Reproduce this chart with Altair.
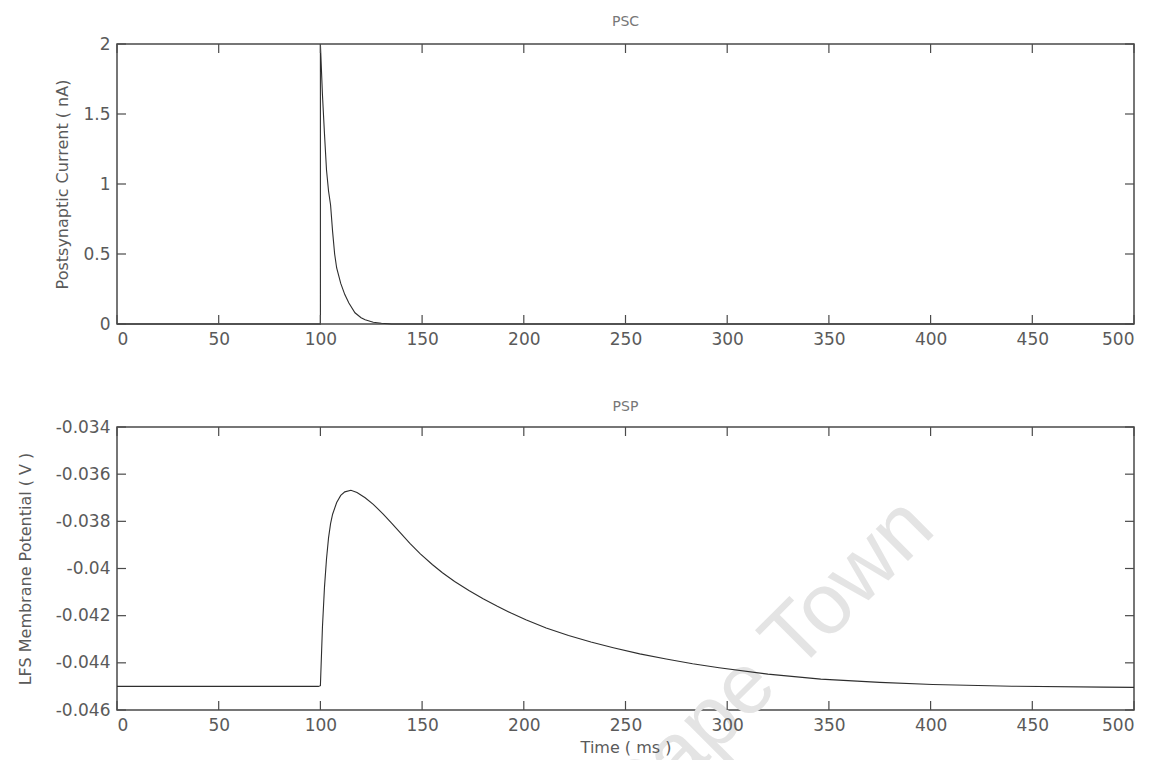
import altair as alt
import pandas as pd

# Axis tick values
time_ticks = [0, 50, 100, 150, 200, 250, 300, 350, 400, 450, 500]
psc_ticks = [0, 0.5, 1, 1.5, 2]
psp_ticks = [-0.046, -0.044, -0.042, -0.04, -0.038, -0.036, -0.034]

# Postsynaptic current (nA) after a single input at t = 100 ms
psc_time = [0, 100, 100, 101, 102, 103, 104, 105, 106, 107, 108, 110, 112, 114,
            117, 120, 122, 126, 130, 135, 500]
psc_current = [0, 0, 2.0, 1.64, 1.36, 1.1, 0.95, 0.85, 0.66, 0.5, 0.4, 0.29, 0.21,
               0.15, 0.08, 0.045, 0.03, 0.012, 0.005, 0, 0]

# Membrane potential (V) of the LFS cell
psp_time = [0, 99, 100, 101, 102, 103, 104, 105, 106, 108, 110, 112, 115, 118, 122,
            126, 131, 135, 139, 144, 149, 155, 160, 166, 173, 180, 187, 194, 201,
            211, 222, 233, 244, 257, 270, 283, 296, 320, 346, 375, 401, 440, 485, 500]
psp_voltage = [-0.045, -0.045, -0.04497, -0.0425, -0.0408, -0.0396, -0.0387, -0.0381,
               -0.0377, -0.0372, -0.0369, -0.03675, -0.03668, -0.03678, -0.037,
               -0.03728, -0.0377, -0.03808, -0.03846, -0.03893, -0.03937, -0.03983,
               -0.04018, -0.04055, -0.04093, -0.04128, -0.0416, -0.0419, -0.04217,
               -0.04252, -0.04284, -0.04312, -0.04336, -0.04362, -0.04384, -0.04404,
               -0.04421, -0.04448, -0.04469, -0.04483, -0.04492, -0.04499, -0.04503,
               -0.04504]

W = 1017
H_TOP = 280
H_BOT = 283
TICK = 9
LINE = "#2e2e2e"
FRAME = "#4a4a4a"
TEXT = "#5a5a5a"
FONT = "DejaVu Sans"
# plain hyphen for negative numbers instead of the typographic minus
HYPHEN_LABEL = "replace(datum.label, '\u2212', '-')"


def inward_ticks(y_values, height):
    """Ticks drawn inside the box on all four sides, MATLAB style."""
    xt = pd.DataFrame({"t": time_ticks})
    yt = pd.DataFrame({"v": y_values})
    rule = dict(color=FRAME, strokeWidth=1.2)
    top = alt.Chart(xt).mark_rule(**rule).encode(
        x="t:Q", y=alt.value(0), y2=alt.value(TICK))
    bottom = alt.Chart(xt).mark_rule(**rule).encode(
        x="t:Q", y=alt.value(height), y2=alt.value(height - TICK))
    left = alt.Chart(yt).mark_rule(**rule).encode(
        y="v:Q", x=alt.value(0), x2=alt.value(TICK))
    right = alt.Chart(yt).mark_rule(**rule).encode(
        y="v:Q", x=alt.value(W), x2=alt.value(W - TICK))
    return [top, bottom, left, right]


psc_df = pd.DataFrame({"t": psc_time, "v": psc_current, "i": range(len(psc_time))})
psp_df = pd.DataFrame({"t": psp_time, "v": psp_voltage, "i": range(len(psp_time))})

psc_line = alt.Chart(psc_df).mark_line(color=LINE, strokeWidth=1.1).encode(
    x=alt.X("t:Q", scale=alt.Scale(domain=[0, 500], nice=False),
            axis=alt.Axis(values=time_ticks, title=None, labelPadding=7)),
    y=alt.Y("v:Q", scale=alt.Scale(domain=[0, 2], nice=False),
            axis=alt.Axis(values=psc_ticks, format="~g",
                          title="Postsynaptic Current ( nA)", titlePadding=12,
                          labelPadding=7)),
    order="i:Q",
)

psp_line = alt.Chart(psp_df).mark_line(color=LINE, strokeWidth=1.1).encode(
    x=alt.X("t:Q", scale=alt.Scale(domain=[0, 500], nice=False),
            axis=alt.Axis(values=time_ticks, title="Time ( ms )", labelPadding=7,
                          titlePadding=6, zindex=2)),
    y=alt.Y("v:Q", scale=alt.Scale(domain=[-0.046, -0.034], nice=False),
            axis=alt.Axis(values=psp_ticks, format="~g", labelExpr=HYPHEN_LABEL,
                          title="LFS Membrane Potential ( V )", titlePadding=22,
                          labelPadding=7, zindex=2)),
    order="i:Q",
)

watermark = alt.Chart(pd.DataFrame({"w": ["Cape Town"]})).mark_text(
    font="Liberation Sans", fontSize=86, color="#e4e4e4", angle=315,
    align="center", baseline="alphabetic",
).encode(text="w:N", x=alt.value(669), y=alt.value(256))

top = alt.layer(psc_line, *inward_ticks(psc_ticks, H_TOP)).properties(
    width=W, height=H_TOP,
    title=alt.TitleParams("PSC", offset=6),
)
bottom = alt.layer(watermark, psp_line, *inward_ticks(psp_ticks, H_BOT)).properties(
    width=W, height=H_BOT,
    title=alt.TitleParams("PSP", offset=4),
)

chart = alt.vconcat(top, bottom, spacing=51).properties(
    padding={"left": 16, "top": 14, "right": 5, "bottom": 5},
    background="white",
).configure_view(
    stroke=FRAME, strokeWidth=1.5,
).configure_axis(
    domain=False, ticks=False, grid=False,
    labelFont=FONT, labelFontSize=17, labelColor=TEXT,
    titleFont=FONT, titleFontSize=16, titleFontWeight="normal", titleColor=TEXT,
).configure_title(
    font=FONT, fontSize=14, fontWeight="normal", color="#777777",
)

chart.save("out.html", embed_options={"renderer": "svg", "actions": False})
